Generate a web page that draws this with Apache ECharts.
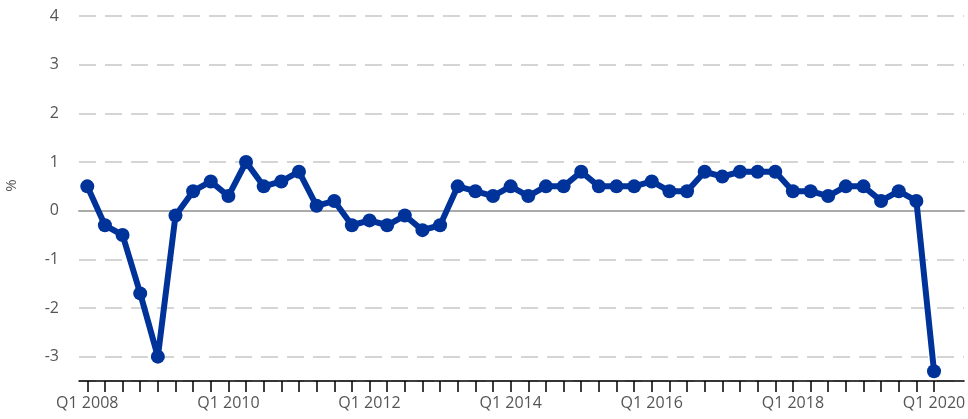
<!DOCTYPE html>
<html lang="en">
<head>
    <meta charset="UTF-8">
    <title>Quarterly change, %</title>
    <script src="https://cdn.jsdelivr.net/npm/echarts@6/dist/echarts.min.js"></script>
    <style>
        * {
            margin: 0;
            padding: 0;
        }

        html,
        body {
            width: 100%;
            height: 100%;
            background: #fff;
        }
    </style>
</head>
<body>
    <div id="main" style="width: 968px;height:419px;"></div>
<script>
    // quarters Q1 2008 .. Q1 2020
    var quarters = [];
    for (var yr = 2008; yr <= 2020; yr++) {
        for (var q = 1; q <= 4; q++) {
            if (yr === 2020 && q > 1) break;
            quarters.push('Q' + q + ' ' + yr);
        }
    }
    // quarter-on-quarter change, %
    var values = [
        0.5, -0.3, -0.5, -1.7, -3.0, -0.1, 0.4, 0.6,   // 2008-2009
        0.3, 1.0, 0.5, 0.6, 0.8, 0.1, 0.2, -0.3,       // 2010-2011
        -0.2, -0.3, -0.1, -0.4, -0.3, 0.5, 0.4, 0.3,   // 2012-2013
        0.5, 0.3, 0.5, 0.5, 0.8, 0.5, 0.5, 0.5,        // 2014-2015
        0.6, 0.4, 0.4, 0.8, 0.7, 0.8, 0.8, 0.8,        // 2016-2017
        0.4, 0.4, 0.3, 0.5, 0.5, 0.2, 0.4, 0.2,        // 2018-2019
        -3.3                                           // Q1 2020
    ];
    var labelQuarters = ['Q1 2008', 'Q1 2010', 'Q1 2012', 'Q1 2014', 'Q1 2016', 'Q1 2018', 'Q1 2020'];
    var yTicks = [-3, -2, -1, 0, 1, 2, 3, 4];

    var tickIdx = quarters.map(function (q, i) { return i; });
    var labelIdx = labelQuarters.map(function (q) { return quarters.indexOf(q); });

    var txt = '#555';
    var font = 'Open Sans';

    var myChart = echarts.init(document.getElementById('main'));
    myChart.setOption({
        animation: false,
        grid: {
            left: 79,
            right: 4,
            top: 16,
            bottom: 38,
            outerBoundsMode: 'none'
        },
        xAxis: [
            {
                type: 'value',
                min: -0.47,
                max: 49.7,
                axisLine: {
                    onZero: false,
                    lineStyle: { color: '#000', width: 1.5 }
                },
                axisTick: {
                    show: true,
                    length: 11,
                    customValues: tickIdx,
                    lineStyle: { color: '#000', width: 1.5 }
                },
                axisLabel: {
                    customValues: labelIdx,
                    color: txt,
                    fontFamily: font,
                    fontSize: 16,
                    margin: 14,
                    formatter: function (v) { return quarters[Math.round(v)]; }
                },
                splitLine: { show: false }
            },
            {
                // zero line
                type: 'value',
                min: -0.47,
                max: 49.7,
                axisLine: {
                    onZero: true,
                    onZeroAxisIndex: 0,
                    lineStyle: { color: '#aaa', width: 2 }
                },
                axisTick: { show: false },
                axisLabel: { show: false },
                splitLine: { show: false }
            }
        ],
        yAxis: {
            type: 'value',
            min: -3.5,
            max: 4,
            splitNumber: 8,
            name: '%',
            nameLocation: 'middle',
            nameGap: 60,
            nameTextStyle: {
                color: txt,
                fontFamily: font,
                fontSize: 15,
                padding: [0, 0, 0, 26]
            },
            axisLine: { show: false },
            axisTick: { show: false },
            axisLabel: {
                showMinLabel: false,
                color: txt,
                fontFamily: font,
                fontSize: 16,
                margin: 20,
                formatter: function (v) {
                    return yTicks.indexOf(v) >= 0 ? String(v) : '';
                }
            },
            splitLine: {
                lineStyle: {
                    color: '#c8c8c8',
                    width: 1.5,
                    type: [17, 9]
                }
            }
        },
        series: [
            {
                type: 'line',
                xAxisIndex: 0,
                data: values.map(function (v, i) { return [i, v]; }),
                symbol: 'circle',
                symbolSize: 14,
                showAllSymbol: true,
                lineStyle: { color: '#003399', width: 6 },
                itemStyle: { color: '#003399' },
                z: 5
            }
        ]
    });
</script>
</body>
</html>
